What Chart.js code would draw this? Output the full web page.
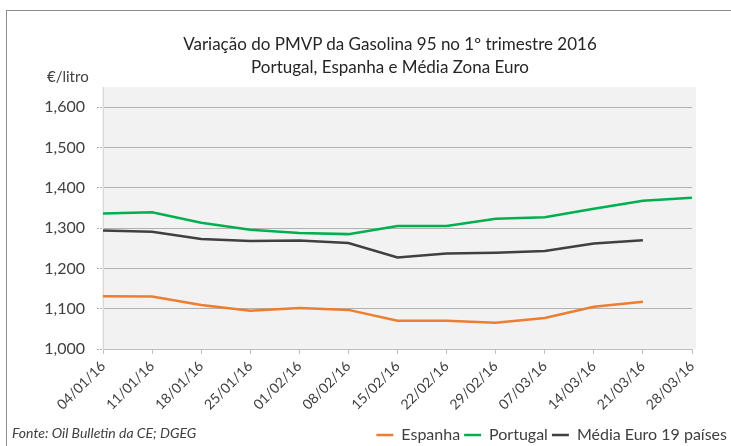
<!DOCTYPE html>
<html>
<head>
<meta charset="utf-8">
<script src="https://cdn.jsdelivr.net/npm/chart.js@4.4.1/dist/chart.umd.min.js"></script>
<style>
  html, body { margin: 0; padding: 0; background: #fff; }
  #wrap { position: relative; width: 731px; height: 446px; overflow: hidden; font-family: Lato, sans-serif; color: #404040; }
  #frame { position: absolute; left: 6px; top: 10px; width: 740px; height: 450px; border-top: 1px solid #8c8c8c; border-left: 1px solid #8c8c8c; }
  #chart { position: absolute; left: 0; top: 0; }
  .title { position: absolute; left: 180px; width: 420px; text-align: center; font-size: 17px; color: #262626; white-space: nowrap; }
  #unit { position: absolute; left: 47px; top: 67px; font-size: 15px; }
  #source { position: absolute; left: 12px; top: 424px; font-size: 14px; font-style: italic; }
</style>
</head>
<body>
<div id="wrap">
  <div id="frame"></div>
  <canvas id="chart" width="731" height="446"></canvas>
  <div class="title" style="top:33px">Variação do PMVP da Gasolina 95 no 1º trimestre 2016</div>
  <div class="title" style="top:56px">Portugal, Espanha e Média Zona Euro</div>
  <div id="unit">€/litro</div>
  <div id="source">Fonte: Oil Bulletin da CE; DGEG</div>
</div>
<script>
const weeks = ['04/01/16', '11/01/16', '18/01/16', '25/01/16', '01/02/16', '08/02/16', '15/02/16',
  '22/02/16', '29/02/16', '07/03/16', '14/03/16', '21/03/16', '28/03/16'];
const espanha = [1.131, 1.130, 1.109, 1.095, 1.102, 1.097, 1.070, 1.070, 1.065, 1.077, 1.105, 1.117, null];
const portugal = [1.336, 1.339, 1.313, 1.296, 1.288, 1.285, 1.305, 1.305, 1.323, 1.327, 1.348, 1.368, 1.375];
const mediaEuro = [1.294, 1.291, 1.273, 1.268, 1.269, 1.263, 1.227, 1.237, 1.239, 1.243, 1.262, 1.270, null];
const yTicks = [1.0, 1.1, 1.2, 1.3, 1.4, 1.5, 1.6];

const PLOT_LEFT = 103, PLOT_RIGHT = 692, PLOT_TOP = 87, PLOT_BOTTOM = 349;
const W = 731, H = 446;
const LEGEND_SHIFT = 7;

// grey plot background
const plotBg = {
  id: 'plotBg',
  beforeDraw(chart) {
    const a = chart.chartArea, ctx = chart.ctx;
    ctx.save();
    ctx.fillStyle = '#f2f2f2';
    ctx.fillRect(a.left - 1, a.top, a.right - a.left + 5, a.bottom - a.top);
    ctx.restore();
  }
};

const line = (label, data, color) => ({
  label, data, borderColor: color, backgroundColor: color,
  borderWidth: 2.5, pointRadius: 0, tension: 0, spanGaps: false
});

new Chart(document.getElementById('chart'), {
  type: 'line',
  data: {
    labels: weeks,
    datasets: [
      line('Espanha', espanha, '#ed7d31'),
      line('Portugal', portugal, '#00b050'),
      line('Média Euro 19 países', mediaEuro, '#404040')
    ]
  },
  options: {
    responsive: false,
    animation: false,
    events: [],
    layout: { padding: { left: 0, right: 0, top: PLOT_TOP, bottom: -LEGEND_SHIFT } },
    plugins: {
      title: { display: false },
      tooltip: { enabled: false },
      legend: {
        position: 'bottom',
        align: 'end',
        labels: {
          usePointStyle: true,
          pointStyle: 'line',
          pointStyleWidth: 17,
          padding: 4,
          color: '#404040',
          font: { family: 'Lato', size: 16 }
        }
      }
    },
    scales: {
      x: {
        offset: false,
        grid: { drawOnChartArea: false, drawTicks: true, tickLength: 5, color: '#bfbfbf' },
        border: { display: true, color: '#bfbfbf', width: 1 },
        ticks: {
          minRotation: 45, maxRotation: 45, autoSkip: false, padding: 4,
          color: '#404040', font: { family: 'Lato', size: 14 }
        },
        afterFit(scale) {
          scale.height = Math.max(0, H + LEGEND_SHIFT - PLOT_BOTTOM - scale.chart.legend.height);
        }
      },
      y: {
        min: 1.0, max: 1.65,
        afterBuildTicks(scale) { scale.ticks = yTicks.map(v => ({ value: v })); },
        grid: { color: '#b0b0b0', borderDash: [2, 1], tickLength: 6, tickBorderDash: [2, 1], tickColor: '#b0b0b0' },
        border: { display: true, color: '#d9d9d9', width: 1 },
        ticks: {
          padding: 12, color: '#404040', font: { family: 'Lato', size: 16 },
          callback: v => v.toFixed(3).replace('.', ',')
        },
        afterFit(scale) { scale.width = PLOT_LEFT; }
      },
      yRight: {
        position: 'right',
        display: true,
        grid: { display: false },
        border: { display: false },
        ticks: { display: false },
        afterFit(scale) { scale.width = W - PLOT_RIGHT; }
      }
    }
  },
  plugins: [plotBg]
});
</script>
</body>
</html>
